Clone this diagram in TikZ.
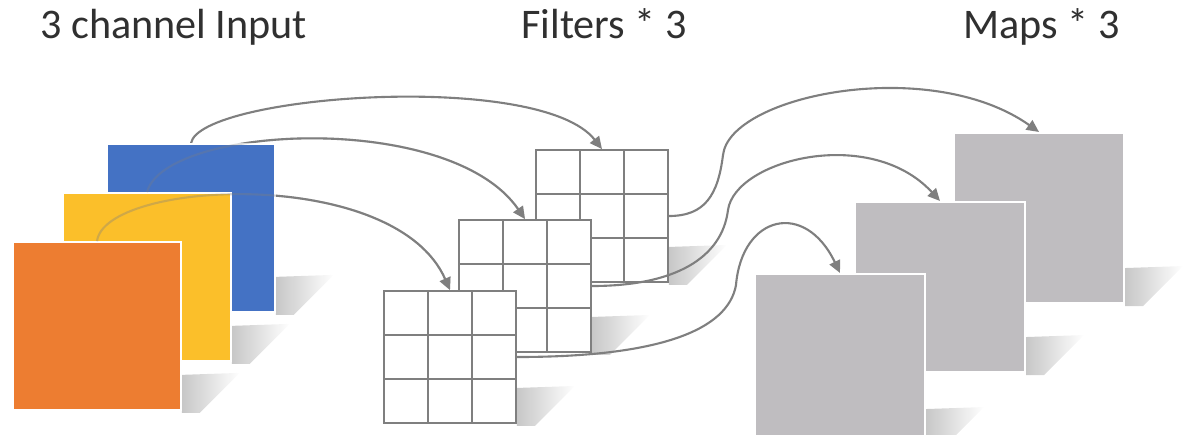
\documentclass[tikz,border=0pt]{standalone}
\usepackage{fontspec}
\setmainfont{Carlito}
\usetikzlibrary{arrows.meta,calc}

\pgfdeclarelayer{shadows}
\pgfdeclarelayer{under}
\pgfsetlayers{shadows,under,main}

\definecolor{inblue}{HTML}{4472C4}
\definecolor{inyellow}{HTML}{FBBF2A}
\definecolor{inorange}{HTML}{ED7D31}
\definecolor{mapgray}{HTML}{BFBDC0}
\definecolor{linegray}{HTML}{7F7F7F}
\definecolor{textgray}{HTML}{303030}

\tikzset{
  insq/.style={draw=white, line width=1pt, minimum size=3.36cm, inner sep=0pt},
  mapsq/.style={draw=white, fill=mapgray, line width=1.2pt, minimum size=3.4cm, inner sep=0pt},
  filt/.style={draw=linegray, fill=white, line width=1.1pt, minimum size=2.64cm, inner sep=0pt,
    path picture={
      \foreach \k in {1,2}{
        \draw[linegray, line width=1.1pt]
          ($(path picture bounding box.north west)!\k/3!(path picture bounding box.north east)$) --
          ($(path picture bounding box.south west)!\k/3!(path picture bounding box.south east)$)
          ($(path picture bounding box.north west)!\k/3!(path picture bounding box.south west)$) --
          ($(path picture bounding box.north east)!\k/3!(path picture bounding box.south east)$);
      }}},
  link/.style={draw=linegray, line width=1.2pt, -{Triangle[length=7pt,width=6.5pt]}},
  title/.style={anchor=base west, text=textgray, inner sep=0pt, font=\fontsize{24}{28}\selectfont},
  flatshadow/.style={left color=black!22, right color=white, draw=none}
}

\begin{document}
\begin{tikzpicture}[x=0.02cm, y=-0.02cm]

    \useasboundingbox (0,0) rectangle (1197,434);

    % titles
    \node[title] (tInput) at (40,38) {3 channel Input};
    \node[title] (tFilt) at (521,38) {Filters * 3};
    \node[title] (tMaps) at (963,38) {Maps * 3};

    % input channels
    \node[insq, fill=inblue] (inB) at (191,228) {};
    \node[insq, fill=inyellow] (inY) at (147,277) {};
    \node[insq, fill=inorange] (inO) at (97,326) {};

    % filters
    \node[filt] (fB) at (602,216) {};
    \node[filt] (fM) at (525,286) {};
    \node[filt] (fF) at (450,357) {};

    % input -> filter, seen faintly through the squares
    \begin{pgfonlayer}{under}
    \draw[link] (inB.north) .. controls (200,95) and (540,70) .. (fB.north);
    \draw[link] (inY.north) .. controls (165,125) and (450,110) .. (fM.north);
    \draw[link] (inO.north) .. controls (105,180) and (395,165) .. (fF.north);
    \end{pgfonlayer}
    \draw[link, opacity=0.3] (inY.north) .. controls (165,125) and (450,110) .. (fM.north);
    \draw[link, opacity=0.35] (inO.north) .. controls (105,180) and (395,165) .. (fF.north);

    % feature maps
    \node[mapsq] (mB) at (1039,218) {};
    \node[mapsq] (mM) at (940,287) {};
    \node[mapsq] (mF) at (840,359) {};

    % filter -> map
    \coordinate (bend4) at (723,155);
    \coordinate (bend5) at (728,210);
    \coordinate (bend6) at (736,285);
    \draw[link] (fB.east) .. controls (705,216) and (718,195) .. (bend4)
        .. controls (730,95) and (930,55) .. (mB.north);
    \draw[link] (fM.east) .. controls (675,286) and (722,258) .. (bend5)
        .. controls (735,160) and (870,125) .. (mM.north);
    \draw[link] (fF.east) .. controls (660,357) and (728,330) .. (bend6)
        .. controls (742,215) and (805,200) .. (mF.north);

    % shadows on the floor
    \begin{pgfonlayer}{shadows}
    \foreach \n in {inB,inY,inO,fB,fM,fF,mB,mM,mF}
        \shade[flatshadow] (\n.south east) ++(0,2) -- ++(0,-38) -- ++(58,-2) -- ++(-40,40) -- cycle;
    \end{pgfonlayer}

\end{tikzpicture}
\end{document}
